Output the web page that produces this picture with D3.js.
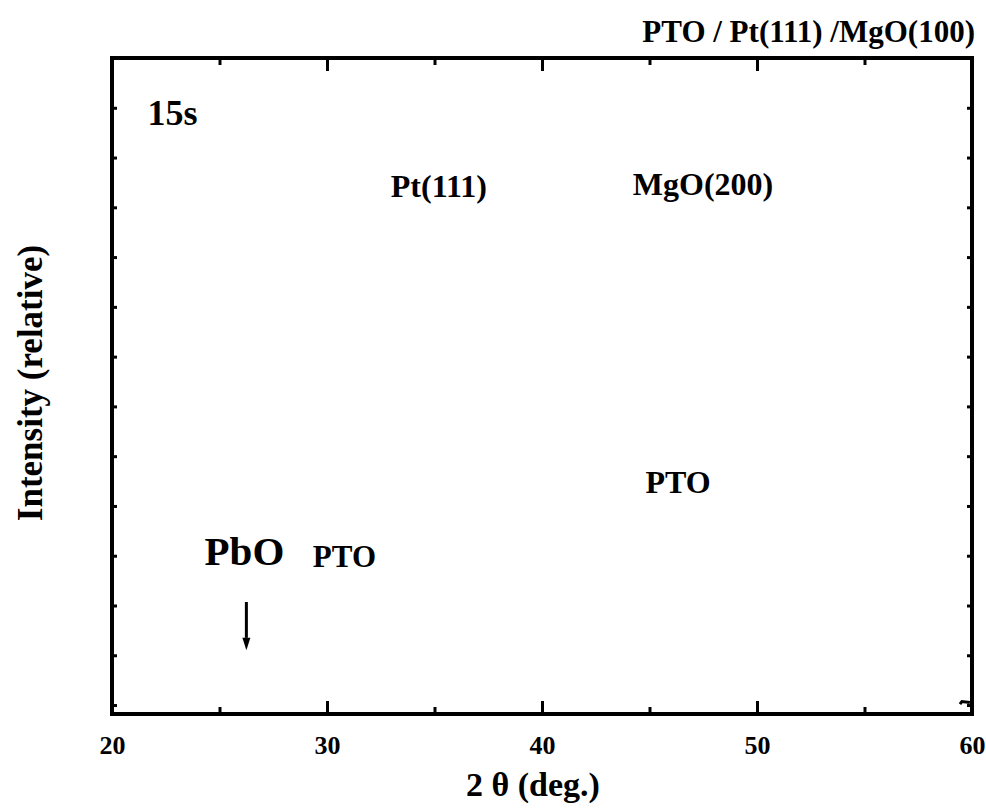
<!DOCTYPE html>
<html>
<head>
<meta charset="utf-8">
<script src="https://cdn.jsdelivr.net/npm/d3@7"></script>
<style>
  body { margin: 0; background: #fff; }
  svg text { font-family: "Liberation Serif", "Times New Roman", serif; font-weight: bold; fill: #000; }
</style>
</head>
<body>
<svg id="chart"></svg>
<script>
// data
const xTicks = [20, 30, 40, 50, 60];
const xMinorTicks = [25, 35, 45, 55];
const yTicks = [0, 1, 2, 3, 4, 5, 6, 7, 8, 9, 10, 11, 12, 13];
const twoTheta = [59.44, 59.53, 59.9];
const intensity = [0.02, 0.07, 0.05];
const peakLabels = ["Pt(111)", "MgO(200)", "PTO", "PTO"];
const sampleLabel = "15s";
const chartTitle = "PTO / Pt(111) /MgO(100)";

const margin = { top: 58, bottom: 96, left: 112, right: 14 };
const width = 986 - margin.left - margin.right;
const height = 810 - margin.top - margin.bottom;

const svg = d3.select("#chart")
  .attr("width", width + margin.left + margin.right)
  .attr("height", height + margin.top + margin.bottom);

const g = svg.append("g").attr("transform", `translate(${margin.left},${margin.top})`);

const xscale = d3.scaleLinear().domain([20, 60]).range([0, width]);
const yscale = d3.scaleLinear().domain([-0.18, 13]).range([height, 0]);

// ticks (inward, mirrored on all sides)
const xMajor = d3.axisBottom(xscale).tickValues(xTicks).tickSize(-13).tickFormat(d3.format("d")).tickPadding(22);
const xMinor = d3.axisBottom(xscale).tickValues(xMinorTicks).tickSize(-7).tickFormat("");
const xTopMajor = d3.axisTop(xscale).tickValues(xTicks).tickSize(-13).tickFormat("");
const xTopMinor = d3.axisTop(xscale).tickValues(xMinorTicks).tickSize(-7).tickFormat("");
const yLeft = d3.axisLeft(yscale).tickValues(yTicks).tickSize(-5).tickFormat("");
const yRight = d3.axisRight(yscale).tickValues(yTicks).tickSize(-5).tickFormat("");

function styleAxis(sel) {
  sel.select(".domain").remove();
  sel.selectAll(".tick line").attr("stroke", "#000").attr("stroke-width", 3);
}

g.append("g").attr("transform", `translate(0,${height})`).call(xMajor).call(styleAxis)
  .selectAll("text").style("font-size", "26px").style("font-family", "Liberation Serif").style("font-weight", "bold");
g.append("g").attr("transform", `translate(0,${height})`).call(xMinor).call(styleAxis);
g.append("g").call(xTopMajor).call(styleAxis);
g.append("g").call(xTopMinor).call(styleAxis);
g.append("g").call(yLeft).call(styleAxis);
g.append("g").attr("transform", `translate(${width},0)`).call(yRight).call(styleAxis);

// frame
g.append("rect")
  .attr("x", 0).attr("y", 0)
  .attr("width", width).attr("height", height)
  .attr("fill", "none").attr("stroke", "#000").attr("stroke-width", 4);

// data trace (only its tail is visible)
const line = d3.line().x((d) => xscale(d)).y((d, i) => yscale(intensity[i]));
g.append("path")
  .datum(twoTheta)
  .attr("d", line)
  .attr("fill", "none")
  .attr("stroke", "#000")
  .attr("stroke-width", 3);

// annotations
g.append("text").attr("x", xscale(21.65)).attr("y", yscale(11.65))
  .style("font-size", "36px").text(sampleLabel);
g.append("text").attr("x", xscale(35.2)).attr("y", yscale(10.21)).attr("text-anchor", "middle")
  .style("font-size", "32px").text(peakLabels[0]);
g.append("text").attr("x", xscale(47.49)).attr("y", yscale(10.25)).attr("text-anchor", "middle")
  .style("font-size", "32px").text(peakLabels[1]);
g.append("text").attr("x", xscale(46.33)).attr("y", yscale(4.26)).attr("text-anchor", "middle")
  .style("font-size", "32px").text(peakLabels[2]);
g.append("text").attr("x", xscale(30.81)).attr("y", yscale(2.77)).attr("text-anchor", "middle")
  .style("font-size", "31px").text(peakLabels[3]);
g.append("text").attr("x", xscale(26.16)).attr("y", yscale(2.81)).attr("text-anchor", "middle")
  .style("font-size", "41px").text("PbO");

// PbO arrow
g.append("line")
  .attr("x1", xscale(26.25)).attr("x2", xscale(26.25))
  .attr("y1", yscale(2.07)).attr("y2", yscale(1.35))
  .attr("stroke", "#000").attr("stroke-width", 3);
g.append("path")
  .attr("d", `M${xscale(26.25) - 4},${yscale(1.35)} L${xscale(26.25) + 4},${yscale(1.35)} L${xscale(26.25)},${yscale(1.1)} Z`)
  .attr("fill", "#000");

// axis titles
svg.append("text")
  .attr("transform", `translate(42,${margin.top + height / 2 - 3}) rotate(-90)`)
  .attr("text-anchor", "middle")
  .style("font-size", "35px")
  .text("Intensity (relative)");

svg.append("text")
  .attr("x", 533).attr("y", 796)
  .attr("text-anchor", "middle")
  .style("font-size", "34px")
  .text("2 θ (deg.)");

svg.append("text")
  .attr("x", 975).attr("y", 42)
  .attr("text-anchor", "end")
  .style("font-size", "31px")
  .text(chartTitle);
</script>
</body>
</html>
